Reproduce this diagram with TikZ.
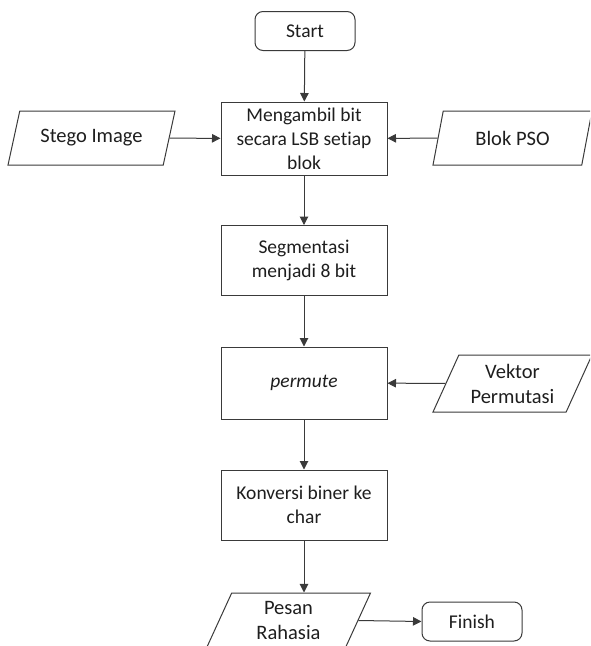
\documentclass[tikz,border=0pt]{standalone}
\usepackage{fontspec}
\setmainfont{Carlito}[Ligatures=NoCommon]
\usetikzlibrary{shapes.geometric,arrows.meta}
\definecolor{linec}{HTML}{3A3A3A}
\definecolor{textc}{HTML}{1E1E1E}
\begin{document}
\begin{tikzpicture}[x=1pt,y=-1pt,
  proc/.style={draw=linec, line width=1pt, minimum width=166pt, align=center,
    text=textc, font=\fontsize{19.5}{24}\selectfont, inner sep=2pt},
  term/.style={draw=linec, line width=1pt, rounded corners=8pt, minimum width=100pt,
    minimum height=39pt, text=textc, font=\fontsize{19.5}{24}\selectfont},
  io/.style={trapezium, trapezium left angle=58, trapezium right angle=122,
    trapezium stretches body, draw=linec, line width=1pt, align=center,
    text=textc, font=\fontsize{20.5}{25}\selectfont, inner sep=1pt},
  arr/.style={-{Triangle[length=8.5pt,width=8.5pt]}, draw=linec, line width=1pt}]
\useasboundingbox (0,0) rectangle (590,646);
\clip (0,0) rectangle (590,646);
\node[term] (start) at (305,31) {Start};
\node[proc, minimum height=73pt] (m1) at (304,138.5) {Mengambil bit\\secara LSB setiap\\blok};
\node[io, minimum width=167pt, minimum height=54pt] (stego) at (91.5,138) {Stego Image};
\node[io, minimum width=159pt, minimum height=54pt] (pso) at (512.5,138) {Blok PSO};
\node[proc, minimum height=70pt] (seg) at (304,260.5) {Segmentasi\\menjadi 8 bit};
\node[proc, minimum height=72pt] (perm) at (304,383) {\itshape permute};
\node[io, minimum width=159pt, minimum height=57pt] (vek) at (512.5,383.5) {Vektor\\Permutasi};
\node[proc, minimum height=70pt] (kon) at (304,505) {Konversi biner ke\\char};
\node[io, minimum width=164pt, minimum height=55pt] (pesan) at (288.5,620.5) {Pesan\\Rahasia};
\node[term] (finish) at (472,621.5) {Finish};
\draw[arr] (start) -- (m1);
\draw[arr] (stego) -- (m1);
\draw[arr] (pso) -- (m1);
\draw[arr] (m1) -- (seg);
\draw[arr] (seg) -- (perm);
\draw[arr] (vek) -- (perm);
\draw[arr] (perm) -- (kon);
\draw[arr] (kon.south) -- (kon.south |- pesan.north);
\draw[arr] (pesan.east) -- (finish.west);
\end{tikzpicture}
\end{document}
